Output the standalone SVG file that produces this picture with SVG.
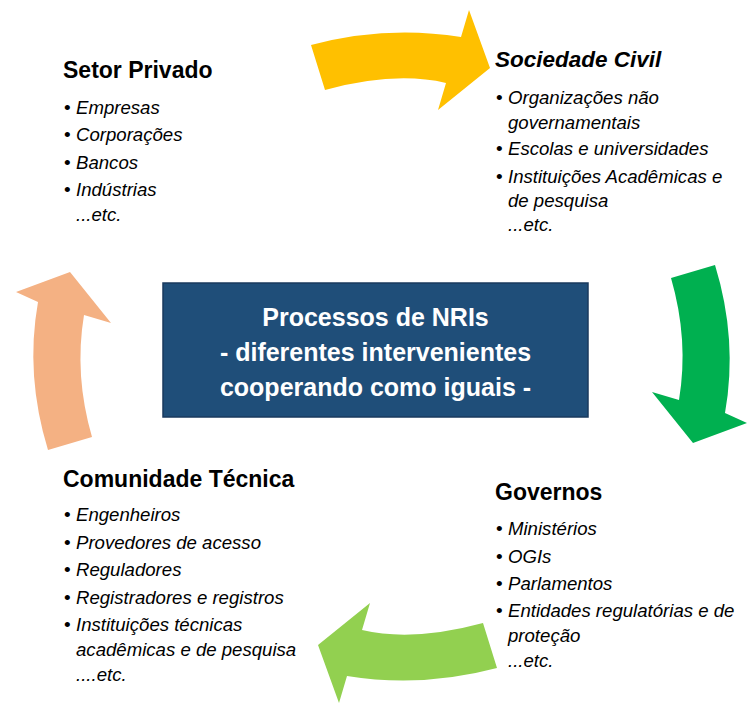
<svg xmlns="http://www.w3.org/2000/svg" width="747" height="703" viewBox="0 0 747 703">
<style>
.h{font-family:"Liberation Sans",Arial,sans-serif;font-weight:bold;font-size:23px;fill:#000}
.hi{font-style:italic}
.b{font-family:"Liberation Sans",Arial,sans-serif;font-style:italic;font-size:18.6px;fill:#000}
.dot{font-family:"Liberation Sans",Arial,sans-serif;font-size:19px;fill:#000}
.c{font-family:"Liberation Sans",Arial,sans-serif;font-weight:bold;font-size:25px;fill:#fff;text-anchor:middle}
</style>
<defs>
<path id="arrH" d="M311,45 Q386,25 461,37 L469,10 L490,68 L438,110 L446,83 Q395,71 325,90 Z"/>
<path id="arrV" d="M671,278 L715,265 Q738,340 725,413 L747,423 L693,443 L652,392 L679,400 Q689,340 671,278 Z"/>
</defs>
<rect width="747" height="703" fill="#fff"/>
<g id="connectors">
<use href="#arrH" fill="#FFC000"/>
<use href="#arrV" fill="#00B050"/>
<use href="#arrH" fill="#92D050" transform="rotate(180 404 356.5)"/>
<use href="#arrV" fill="#F4B183" transform="rotate(180 381.5 357.5)"/>
</g>
<g id="center">
<rect x="163" y="283" width="425" height="134" fill="#1F4E79" stroke="#1A3A5E" stroke-width="1.5"/>
<text class="c" x="375.5" y="326">Processos de NRIs</text>
<text class="c" x="375.5" y="361">- diferentes intervenientes</text>
<text class="c" x="375.5" y="396">cooperando como iguais -</text>
</g>
<g id="setor-privado">
<text class="h" x="63" y="78">Setor Privado</text>
<text class="dot" x="64" y="114">•</text><text class="b" x="76" y="114">Empresas</text>
<text class="dot" x="64" y="141">•</text><text class="b" x="76" y="141">Corporações</text>
<text class="dot" x="64" y="169">•</text><text class="b" x="76" y="169">Bancos</text>
<text class="dot" x="64" y="196">•</text><text class="b" x="76" y="196">Indústrias</text>
<text class="b" x="76" y="221">...etc.</text>
</g>
<g id="sociedade-civil">
<text class="h hi" x="495" y="67" style="font-size:22.5px">Sociedade Civil</text>
<text class="dot" x="496" y="104">•</text><text class="b" x="508" y="104">Organizações não</text>
<text class="b" x="508" y="129">governamentais</text>
<text class="dot" x="496" y="155">•</text><text class="b" x="508" y="155">Escolas e universidades</text>
<text class="dot" x="496" y="183">•</text><text class="b" x="508" y="183">Instituições Acadêmicas e</text>
<text class="b" x="508" y="207">de pesquisa</text>
<text class="b" x="508" y="231">...etc.</text>
</g>
<g id="governos">
<text class="h" x="495" y="500">Governos</text>
<text class="dot" x="496" y="535">•</text><text class="b" x="508" y="535">Ministérios</text>
<text class="dot" x="496" y="563">•</text><text class="b" x="508" y="563">OGIs</text>
<text class="dot" x="496" y="590">•</text><text class="b" x="508" y="590">Parlamentos</text>
<text class="dot" x="496" y="617">•</text><text class="b" x="508" y="617">Entidades regulatórias e de</text>
<text class="b" x="508" y="642">proteção</text>
<text class="b" x="508" y="667">...etc.</text>
</g>
<g id="comunidade-tecnica">
<text class="h" x="63" y="487">Comunidade Técnica</text>
<text class="dot" x="64" y="521">•</text><text class="b" x="76" y="521">Engenheiros</text>
<text class="dot" x="64" y="549">•</text><text class="b" x="76" y="549">Provedores de acesso</text>
<text class="dot" x="64" y="576">•</text><text class="b" x="76" y="576">Reguladores</text>
<text class="dot" x="64" y="604">•</text><text class="b" x="76" y="604">Registradores e registros</text>
<text class="dot" x="64" y="631">•</text><text class="b" x="76" y="631">Instituições técnicas</text>
<text class="b" x="76" y="656">acadêmicas e de pesquisa</text>
<text class="b" x="76" y="681">....etc.</text>
</g>
</svg>
